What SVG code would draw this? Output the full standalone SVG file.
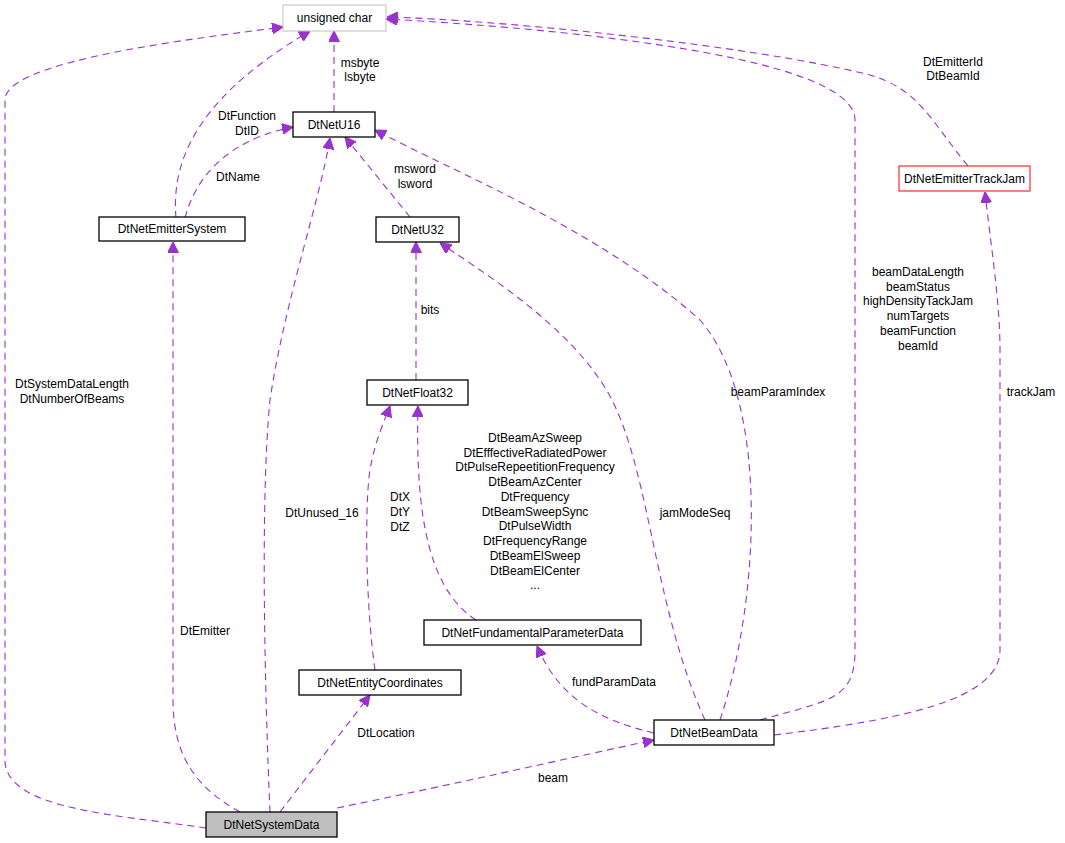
<svg xmlns="http://www.w3.org/2000/svg" width="1065" height="843" viewBox="0 0 1065 843">
<style>
text{font-family:"Liberation Sans",Arial,sans-serif;font-size:12px;fill:#000}
.n{fill:#fff;stroke:#000;stroke-width:1.3}
.e{fill:none;stroke:#9a32cd;stroke-width:1.1;stroke-dasharray:7,5;marker-end:url(#a)}
.m{text-anchor:middle}
</style>
<defs><marker id="a" viewBox="0 0 10 10" refX="10" refY="5" markerWidth="11" markerHeight="11" markerUnits="userSpaceOnUse" orient="auto"><path d="M0,0L10,5L0,10z" fill="#9a32cd" stroke="#9a32cd"/></marker></defs>
<rect width="1065" height="843" fill="#fff"/>
<g id="edges">
<path class="e" d="M206,828C120,815 5,810 5,760L5,100C5,60 200,38 283,27"/>
<path class="e" d="M240,812C200,790 173,760 173,700L173,242"/>
<path class="e" d="M270,812C265,700 260,500 270,400C285,300 320,200 330,138"/>
<path class="e" d="M280,812L370,695"/>
<path class="e" d="M337,808C450,785 560,760 654,740"/>
<path class="e" d="M176,218C170,150 210,90 310,31"/>
<path class="e" d="M185,218C200,160 250,135 293,127"/>
<path class="e" d="M334,112L334,31"/>
<path class="e" d="M410,217L345,137"/>
<path class="e" d="M416,380L416,242"/>
<path class="e" d="M375,670C365,600 365,500 370,470C375,440 385,420 390,406"/>
<path class="e" d="M476,620C430,590 415,520 418,406"/>
<path class="e" d="M654,733C600,720 560,700 537,646"/>
<path class="e" d="M705,720C650,600 650,450 600,380C560,320 480,270 440,243"/>
<path class="e" d="M720,720C760,600 770,400 700,320C600,230 450,170 375,130"/>
<path class="e" d="M760,720C830,700 855,700 855,650L855,120C855,50 500,25 386,19"/>
<path class="e" d="M774,735C900,720 1000,700 1000,650L1000,350C1000,300 990,240 985,192"/>
<path class="e" d="M968,166C930,120 920,90 870,75C750,45 500,20 387,17"/>
</g>
<g id="labels">
<text x="72" y="388" class="m">DtSystemDataLength</text>
<text x="72" y="403" class="m">DtNumberOfBeams</text>
<text x="205" y="635" class="m">DtEmitter</text>
<text x="322" y="517" class="m">DtUnused_16</text>
<text x="386" y="737" class="m">DtLocation</text>
<text x="553" y="782" class="m">beam</text>
<text x="247" y="120" class="m">DtFunction</text>
<text x="247" y="135" class="m">DtID</text>
<text x="238" y="181" class="m">DtName</text>
<text x="360" y="67" class="m">msbyte</text>
<text x="360" y="81" class="m">lsbyte</text>
<text x="415" y="173" class="m">msword</text>
<text x="415" y="188" class="m">lsword</text>
<text x="430" y="314" class="m">bits</text>
<text x="400" y="501" class="m">DtX</text>
<text x="400" y="516" class="m">DtY</text>
<text x="400" y="531" class="m">DtZ</text>
<g class="m">
<text x="535" y="442" class="m">DtBeamAzSweep</text>
<text x="535" y="457" class="m">DtEfffectiveRadiatedPower</text>
<text x="535" y="471" class="m">DtPulseRepeetitionFrequency</text>
<text x="535" y="486" class="m">DtBeamAzCenter</text>
<text x="535" y="501" class="m">DtFrequency</text>
<text x="535" y="516" class="m">DtBeamSweepSync</text>
<text x="535" y="530" class="m">DtPulseWidth</text>
<text x="535" y="545" class="m">DtFrequencyRange</text>
<text x="535" y="560" class="m">DtBeamElSweep</text>
<text x="535" y="575" class="m">DtBeamElCenter</text>
<text x="535" y="589" class="m">...</text>
</g>
<text x="614" y="686" class="m">fundParamData</text>
<text x="695" y="517" class="m">jamModeSeq</text>
<text x="778" y="396" class="m">beamParamIndex</text>
<text x="918" y="276" class="m">beamDataLength</text>
<text x="918" y="291" class="m">beamStatus</text>
<text x="918" y="305" class="m">highDensityTackJam</text>
<text x="918" y="320" class="m">numTargets</text>
<text x="918" y="335" class="m">beamFunction</text>
<text x="918" y="350" class="m">beamId</text>
<text x="1031" y="396" class="m">trackJam</text>
<text x="953" y="66" class="m">DtEmitterId</text>
<text x="953" y="80" class="m">DtBeamId</text>
</g>
<g id="uchar"><rect x="283" y="5" width="103" height="26" fill="#fff" stroke="#bfbfbf"/><text x="334.5" y="22" class="m">unsigned char</text></g>
<g id="u16"><rect class="n" x="293" y="112" width="82" height="25"/><text x="334" y="129" class="m">DtNetU16</text></g>
<g id="emsys"><rect class="n" x="99" y="217" width="146" height="24"/><text x="172" y="233" class="m">DtNetEmitterSystem</text></g>
<g id="u32"><rect class="n" x="376" y="217" width="83" height="25"/><text x="417.5" y="234" class="m">DtNetU32</text></g>
<g id="f32"><rect class="n" x="367" y="380" width="101" height="25"/><text x="417.5" y="397" class="m">DtNetFloat32</text></g>
<g id="trackjam"><rect x="899" y="166" width="131" height="25" fill="#fff" stroke="#ff0000"/><text x="964.5" y="183" class="m">DtNetEmitterTrackJam</text></g>
<g id="fund"><rect class="n" x="424" y="620" width="217" height="25"/><text x="532.5" y="637" class="m">DtNetFundamentalParameterData</text></g>
<g id="coords"><rect class="n" x="299" y="670" width="162" height="25"/><text x="380" y="687" class="m">DtNetEntityCoordinates</text></g>
<g id="beam"><rect class="n" x="654" y="720" width="120" height="25"/><text x="714" y="737" class="m">DtNetBeamData</text></g>
<g id="sys"><rect x="206" y="812" width="131" height="25" fill="#bfbfbf" stroke="#000" stroke-width="1.3"/><text x="271.5" y="829" class="m">DtNetSystemData</text></g>
</svg>
